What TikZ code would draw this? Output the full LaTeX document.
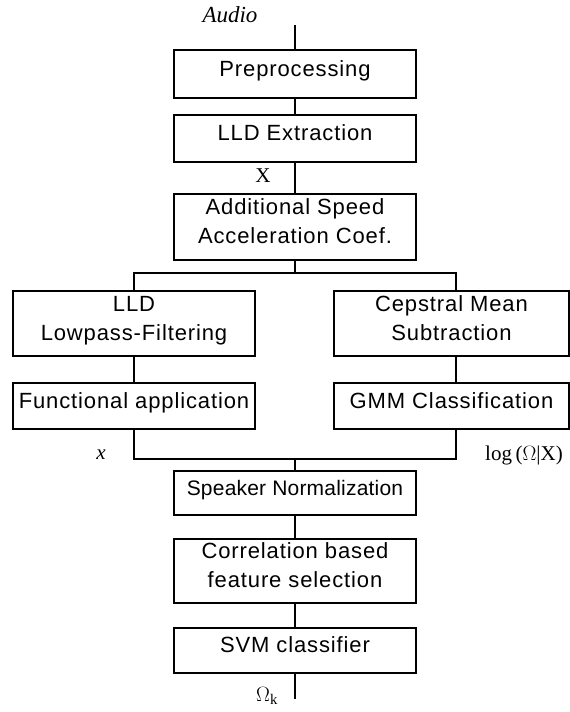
\documentclass[tikz,border=0pt]{standalone}
\usepackage{fontspec}
\setmainfont[LetterSpace=4]{Liberation Sans}
\newfontfamily\tightsans[LetterSpace=1]{Liberation Sans}
\newfontfamily\serifl{Liberation Serif}
\usetikzlibrary{calc}
\newcommand{\dn}{\rule[-11pt]{0pt}{11pt}}
\tikzset{
  box/.style={draw, line width=1.3pt, align=center, inner sep=0pt, font=\fontsize{22}{29}\selectfont},
  conn/.style={line width=1.3pt},
  lbl/.style={inner sep=0pt, font=\serifl\fontsize{21}{24}\selectfont}
}
\begin{document}
\begin{tikzpicture}[x=1pt,y=-1pt]
\useasboundingbox (0,0) rectangle (570,712);
\node[box, minimum width=242, minimum height=48] (pre) at (295,74) {Preprocessing\dn};
\node[box, minimum width=242, minimum height=47] (lld) at (295,138.5) {LLD Extraction\dn};
\node[box, minimum width=242, minimum height=66] (add) at (295,227) {Additional Speed\\Acceleration Coef.\dn};
\node[box, minimum width=242, minimum height=65] (low) at (134,323.5) {LLD\\Lowpass-Filtering\dn};
\node[box, minimum width=242, minimum height=46] (fun) at (134,406) {Functional application\dn};
\node[box, minimum width=235, minimum height=65] (cep) at (451.5,323.5) {Cepstral Mean\\Subtraction\dn};
\node[box, minimum width=235, minimum height=46] (gmm) at (451.5,406) {GMM Classification\dn};
\node[box, minimum width=242, minimum height=44, font=\tightsans\fontsize{21}{29}\selectfont] (spk) at (295,493) {Speaker Normalization\dn};
\node[box, minimum width=242, minimum height=64] (cor) at (295,571) {Correlation based\\feature selection\dn};
\node[box, minimum width=242, minimum height=45] (svm) at (295,650.5) {SVM classifier\dn};

\coordinate (in) at (295,25);
\coordinate (out) at (295,699);
\coordinate (rx) at (456,0);
\coordinate (split) at (295,273);
\coordinate (merge) at (295,459);

\draw[conn] (in) -- (pre.north);
\draw[conn] (pre.south) -- (lld.north);
\draw[conn] (lld.south) -- (add.north);
\draw[conn] (add.south) -- (split);
\draw[conn] (low.north) -- (low.north |- split) -- (split -| rx) -- (cep.north -| rx);
\draw[conn] (low.south) -- (fun.north);
\draw[conn] (cep.south -| rx) -- (gmm.north -| rx);
\draw[conn] (fun.south) -- (fun.south |- merge) -- (merge -| rx) -- (gmm.south -| rx);
\draw[conn] (merge) -- (spk.north);
\draw[conn] (spk.south) -- (cor.north);
\draw[conn] (cor.south) -- (svm.north);
\draw[conn] (svm.south) -- (out);

\node[lbl, font=\serifl\itshape\fontsize{23}{24}\selectfont] (audio) at (230,15) {Audio};
\node[lbl] (xl) at (263,176) {X};
\node[lbl, font=\serifl\itshape\fontsize{21}{24}\selectfont] (xs) at (101,455) {x};
\node[lbl] (logl) at (524,455) {log\,(\(\Omega\)|X)};
\node[lbl] (om) at (267,696) {\(\Omega\)\textsubscript{k}};
\end{tikzpicture}
\end{document}
